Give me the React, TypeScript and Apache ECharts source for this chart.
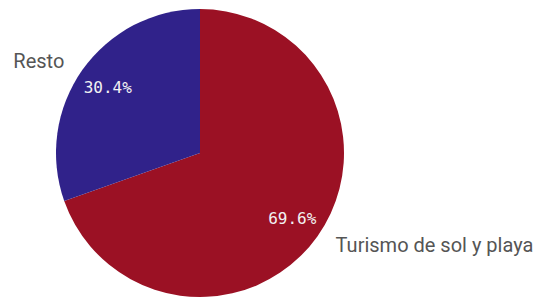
import React, { useEffect, useRef } from "react";
import * as echarts from "echarts";

const categories = ["Turismo de sol y playa", "Resto"];
const values = [69.6, 30.4];
const colors = ["#9b1124", "#30228a"];

export default function App() {
  const ref = useRef<HTMLDivElement>(null);
  useEffect(() => {
    if (!ref.current) return;
    const chart = echarts.init(ref.current, undefined, { renderer: "svg" });
    const data = categories.map((name, i) => ({ name, value: values[i] }));
    chart.setOption({
      animation: false,
      backgroundColor: "#ffffff",
      series: [
        {
          type: "pie",
          center: [200, 153],
          radius: [0, 144],
          startAngle: 90,
          clockwise: true,
          avoidLabelOverlap: false,
          silent: true,
          data: data.map((d, i) => ({ ...d, itemStyle: { color: colors[i] } })),
          itemStyle: { borderWidth: 0 },
          label: {
            show: true,
            position: "outside",
            formatter: "{b}",
            color: "#555555",
            fontFamily: "Roboto",
            fontSize: 20,
          },
          labelLine: { show: false, length: 16, length2: 0 },
        },
        {
          type: "pie",
          center: [200, 153],
          radius: [76, 144],
          startAngle: 90,
          clockwise: true,
          avoidLabelOverlap: false,
          silent: true,
          data: data.map((d) => ({ ...d, itemStyle: { color: "rgba(0,0,0,0)" } })),
          label: {
            show: true,
            position: "inside",
            formatter: (p: any) => p.value.toFixed(1) + "%",
            color: "#f2f2f2",
            fontFamily: "DejaVu Sans Mono",
            fontSize: 16,
          },
          labelLine: { show: false },
        },
      ],
    });
    return () => chart.dispose();
  }, []);
  return (
    <div
      ref={ref}
      style={{ position: "fixed", left: 0, top: 0, width: 537, height: 299 }}
    />
  );
}
